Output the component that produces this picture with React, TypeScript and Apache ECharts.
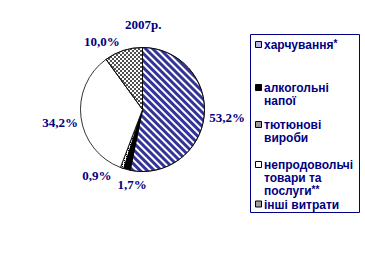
import React, { useEffect, useRef } from "react";
import * as echarts from "echarts";

// Структура споживчих витрат домогосподарств, 2007 р.
const YEAR_TITLE = "2007р.";
const CATEGORIES = [
  "харчування*",
  "алкогольні напої",
  "тютюнові вироби",
  "непродовольчі товари та послуги**",
  "інші витрати",
];
const SHARES = [53.2, 1.7, 0.9, 34.2, 10.0];
// Legend captions, broken into lines as they appear in the box
const LEGEND_LINES = [
  ["харчування*"],
  ["алкогольні", "напої"],
  ["тютюнові", "вироби"],
  ["непродовольчі", "товари та", "послуги**"],
  ["інші витрати"],
];

const NAVY = "#000080";
const HATCH = "#333399";

// Fill for each slice: plain colour plus optional decal pattern
const sliceStyles: any[] = [
  {
    color: "#ffffff",
    decal: {
      symbol: "rect",
      symbolSize: 1,
      color: HATCH,
      backgroundColor: "#ffffff",
      dashArrayX: [1, 0],
      dashArrayY: [3, 2],
      rotation: Math.PI / 4,
    },
  },
  { color: "#000000" },
  {
    color: "#ffffff",
    decal: {
      symbol: "rect",
      symbolSize: 1,
      color: "#000000",
      backgroundColor: "#ffffff",
      dashArrayX: [1, 1],
      dashArrayY: [1, 1],
      rotation: 0,
    },
  },
  { color: "#ffffff" },
  {
    color: "#ffffff",
    decal: {
      symbol: "rect",
      symbolSize: 1,
      color: "#505050",
      backgroundColor: "#ffffff",
      dashArrayX: [
        [2, 2],
        [0, 2, 2, 0],
      ],
      dashArrayY: [2, 0],
      rotation: 0,
    },
  },
];

const legendMarkerFill = ["#b8b8dc", "#000000", "#9a9a9a", "#ffffff", "#a0a0a0"];

// Nudges for the outside value labels, per slice
const LABEL_NUDGE: Array<{ dx: number; dy: number; align?: string }> = [
  { dx: 0, dy: 2 },
  { dx: -6, dy: 13, align: "left" },
  { dx: -7, dy: 6 },
  { dx: 2, dy: 5 },
  { dx: 0, dy: -7 },
];

function fmt(v: number) {
  return v.toFixed(1).replace(".", ",") + "%";
}

function richLine(line: string) {
  const m = line.match(/^(.*?)(\*+)$/);
  if (m) return `{t|${m[1]}}{s|${m[2]}}`;
  return `{t|${line}}`;
}

export default function App() {
  const ref = useRef<HTMLDivElement>(null);

  useEffect(() => {
    if (!ref.current) return;
    const chart = echarts.init(ref.current, undefined, { renderer: "svg" });

    const legendX = 250;
    const legendRowY = [45, 88, 125, 165, 204.5];
    const legendFont = "'Liberation Sans', Arial, sans-serif";
    const legendGraphics: any[] = [
      {
        type: "rect",
        shape: { x: legendX + 0.5, y: 34.5, width: 109, height: 178 },
        style: { fill: "#ffffff", stroke: NAVY, lineWidth: 1 },
        z: 10,
      },
    ];
    LEGEND_LINES.forEach((lines, i) => {
      const y = legendRowY[i];
      legendGraphics.push({
        type: "rect",
        shape: { x: legendX + 5.5, y: y - 3.5, width: 6, height: 6 },
        style: { fill: legendMarkerFill[i], stroke: "#000000", lineWidth: 1 },
        z: 11,
      });
      legendGraphics.push({
        type: "text",
        x: legendX + 14,
        y: y - 6.5,
        z: 11,
        style: {
          text: lines.map(richLine).join("\n"),
          fill: NAVY,
          align: "left",
          verticalAlign: "top",
          rich: {
            t: {
              fontFamily: legendFont,
              fontWeight: "bold",
              fontSize: 12,
              lineHeight: 13,
              fill: NAVY,
              color: NAVY,
            },
            s: {
              fontFamily: legendFont,
              fontWeight: "bold",
              fontSize: 10,
              lineHeight: 13,
              verticalAlign: "top",
              fill: NAVY,
              color: NAVY,
            },
          },
        },
      });
    });

    chart.setOption({
      animation: false,
      backgroundColor: "#ffffff",
      title: {
        text: YEAR_TITLE,
        left: 125,
        top: 18,
        padding: 0,
        textStyle: {
          fontFamily: "'Liberation Serif', 'Times New Roman', serif",
          fontWeight: "bold",
          fontSize: 13,
          color: NAVY,
        },
      },
      graphic: legendGraphics,
      series: [
        {
          type: "pie",
          center: [142.5, 109.5],
          radius: 62,
          startAngle: 90,
          clockwise: true,
          avoidLabelOverlap: false,
          silent: true,
          itemStyle: { borderColor: "#000000", borderWidth: 0.8 },
          label: {
            show: true,
            position: "outside",
            formatter: (p: any) => fmt(p.value),
            fontFamily: "'Liberation Serif', 'Times New Roman', serif",
            fontWeight: "bold",
            fontSize: 13,
            color: NAVY,
            distanceToLabelLine: 3,
          },
          labelLine: { show: false, length: 2, length2: 0 },
          labelLayout: (params: any) => {
            const n = LABEL_NUDGE[params.dataIndex] || { dx: 0, dy: 0 };
            const out: any = { dx: n.dx, dy: n.dy, hideOverlap: false, moveOverlap: false };
            if (n.align) out.align = n.align;
            return out;
          },
          data: CATEGORIES.map((name, i) => ({
            name,
            value: SHARES[i],
            itemStyle: sliceStyles[i],
          })),
        },
      ],
    });

    return () => chart.dispose();
  }, []);

  return (
    <div
      ref={ref}
      style={{ position: "fixed", left: 0, top: 0, width: 365, height: 261 }}
    />
  );
}
